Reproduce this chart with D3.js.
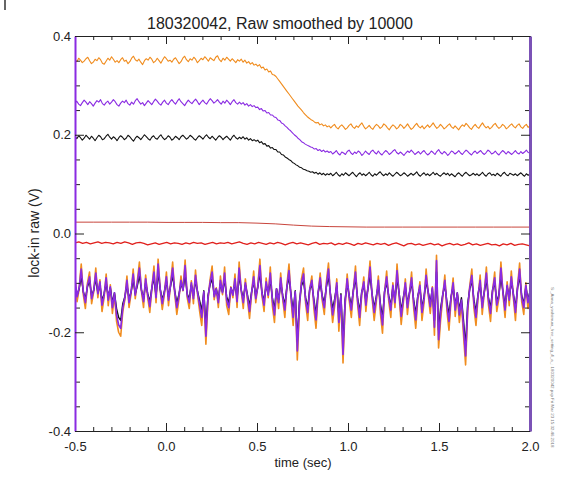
<!DOCTYPE html>
<html>
<head>
<meta charset="utf-8">
<script src="https://cdn.jsdelivr.net/npm/d3@7"></script>
<style>
  html, body { margin: 0; padding: 0; background: #fff; }
  svg { display: block; font-family: "Liberation Sans", Arial, sans-serif; }
</style>
</head>
<body>
<svg id="chart" width="565" height="483"></svg>
<script>
// Lock-in raw traces (mV), evenly sampled from tStart to tEnd
const tStart = -0.5, tEnd = 2.0;

const orangeTop = [
  352,348,355,351,346,349,354,357,350,344,
  347,353,350,356,352,345,343,349,355,351,
  358,353,347,350,346,352,356,349,351,344,
  348,355,359,352,349,353,347,342,350,354,
  351,357,353,346,349,355,350,345,352,358,
  354,349,351,347,353,356,350,344,348,355,
  359,352,348,354,351,357,353,346,350,355,
  352,358,354,349,356,353,350,357,360,352,
  348,355,351,357,353,349,354,350,346,352,
  349,353,347,351,345,348,343,346,341,343,
  339,342,335,337,331,333,327,329,322,321,
  318,313,308,303,298,293,288,283,278,273,
  268,263,258,254,250,245,241,237,234,231,
  229,226,224,225,220,222,218,220,216,218,
  214,218,221,215,212,217,220,216,211,214,
  219,222,216,213,218,215,220,224,217,212,
  215,219,214,211,217,221,218,213,216,222,
  219,214,210,216,220,217,212,215,221,218,
  213,217,222,216,211,214,219,223,217,214,
  218,212,216,220,215,219,224,218,213,216,
  221,217,212,215,219,222,216,213,218,214,
  210,216,220,217,223,219,214,211,217,221,
  216,213,219,224,218,214,217,212,215,220,
  223,217,213,216,221,218,212,215,219,222,
  217,214,219,222,216,213,218,221,215,217
];

const purpleTop = [
  264,268,262,259,265,270,266,261,267,263,
  258,264,269,266,271,263,260,265,268,262,
  266,271,267,261,258,264,268,265,270,263,
  260,266,262,269,273,267,262,265,259,264,
  269,265,261,267,272,268,263,260,266,270,
  264,261,267,271,266,262,268,273,267,263,
  259,265,270,266,263,268,272,267,261,266,
  270,265,262,268,273,269,264,267,271,266,
  262,268,264,270,266,261,267,271,265,262,
  266,262,265,260,263,258,261,257,259,255,
  256,251,253,248,249,244,245,240,240,236,
  235,230,229,224,222,218,215,211,208,204,
  200,197,193,190,186,184,181,179,177,175,
  174,171,172,168,170,166,169,165,167,164,
  166,161,164,168,162,159,165,163,160,166,
  169,163,160,165,162,167,164,158,162,167,
  163,160,166,169,164,161,167,162,159,164,
  168,165,160,163,167,170,164,161,165,162,
  158,163,167,164,169,165,160,163,166,161,
  165,168,163,159,162,167,164,160,166,170,
  164,161,166,163,158,162,167,165,161,164,
  168,163,160,165,169,166,162,159,164,167,
  162,165,168,163,160,164,169,166,161,163,
  167,162,159,164,168,165,161,166,163,160,
  164,168,163,161,166,162,165,169,164,163
];

const blackTop = [
  196,192,198,194,189,193,199,195,191,197,
  193,188,194,199,196,190,192,197,201,195,
  191,196,193,188,194,198,195,190,193,199,
  196,191,187,193,197,194,190,195,200,196,
  192,189,195,198,193,191,196,200,194,190,
  193,198,195,189,192,197,194,190,196,199,
  195,191,194,199,196,192,189,194,198,195,
  191,196,200,195,192,197,193,189,194,198,
  195,190,194,197,193,189,195,199,194,191,
  195,192,196,191,194,189,192,188,190,187,
  189,184,186,181,182,177,178,173,174,170,
  170,165,165,160,159,155,153,150,148,144,
  142,139,137,134,133,130,129,127,126,124,
  125,122,124,120,123,119,122,118,121,119,
  122,117,120,124,119,116,121,118,123,120,
  117,121,124,119,115,120,123,118,121,117,
  120,124,119,116,121,118,122,125,120,117,
  121,118,123,119,116,120,124,121,117,119,
  123,120,116,119,122,118,121,125,119,116,
  120,123,118,121,117,120,124,119,122,118,
  116,120,123,119,122,117,121,118,115,120,
  123,119,116,121,124,120,117,119,122,118,
  121,117,120,124,119,116,121,123,118,120,
  117,122,119,116,121,124,119,117,122,120,
  118,121,117,120,123,119,116,121,118,120
];

const redUpper = [
  23,23,23,23,23,22.5,22.5,22.5,22,22,
  21,19.5,17,15,14,13.5,
  13,13,13,13,13,13,13,13,13,13
];

const redLower = [
  -19,-17,-20,-18,-21,-19,-17,-20,-18,-19,
  -21,-18,-20,-17,-19,-22,-19,-18,-20,-23,
  -21,-19,-22,-20,-18,-21,-19,-20,-22,-19,
  -21,-18,-20,-19,-22,-20,-18,-21,-19,-20,
  -18,-21,-19,-17,-20,-22,-19,-21,-18,-20,
  -22,-19,-21,-18,-20,-23,-20,-18,-21,-19,
  -21,-23,-20,-18,-22,-20,-21,-19,-23,-20,
  -22,-19,-21,-24,-20,-22,-19,-21,-23,-20,
  -22,-20,-24,-21,-19,-22,-25,-21,-20,-23,
  -21,-24,-22,-20,-23,-21,-25,-22,-20,-23,
  -21,-24,-22,-19,-23,-21,-24,-22,-20,-23,
  -22,-25,-21,-23,-20,-24,-22,-21,-23,-25
];

const orangeLow = [
  -88,-138,-112,-62,-124,-152,-100,-78,-142,-118,
  -70,-130,-94,-158,-130,-82,-146,-104,-162,-124,
  -178,-200,-208,-158,-134,-86,-150,-122,-72,-132,
  -96,-58,-118,-150,-84,-130,-160,-110,-66,-140,
  -52,-114,-154,-124,-78,-146,-102,-58,-122,-164,
  -134,-86,-116,-54,-130,-152,-96,-142,-74,-124,
  -158,-186,-122,-224,-136,-94,-66,-134,-110,-150,
  -86,-124,-68,-146,-164,-108,-130,-82,-150,-58,
  -116,-152,-92,-134,-172,-122,-76,-140,-104,-52,
  -126,-158,-90,-130,-68,-146,-180,-112,-152,-80,
  -134,-170,-104,-62,-134,-186,-120,-256,-156,-92,
  -70,-142,-176,-112,-86,-152,-192,-124,-80,-136,
  -164,-98,-60,-132,-180,-146,-92,-198,-128,-262,
  -150,-82,-136,-170,-116,-66,-142,-186,-124,-88,
  -158,-108,-56,-130,-176,-140,-86,-162,-202,-120,
  -76,-136,-170,-100,-150,-62,-126,-184,-142,-92,
  -164,-122,-78,-150,-192,-134,-98,-176,-140,-72,
  -124,-162,-108,-206,-44,-232,-174,-130,-84,-156,
  -196,-136,-90,-168,-122,-180,-142,-206,-266,-160,
  -106,-72,-150,-186,-130,-84,-164,-120,-68,-144,
  -178,-116,-78,-158,-132,-58,-124,-170,-98,-146,
  -76,-130,-176,-108,-60,-138,-164,-100,-152,-120
];

const blackLow = [
  -105,-125,-112,-88,-118,-132,-108,-96,-126,-115,
  -92,-120,-104,-136,-122,-100,-128,-110,-140,-120,
  -152,-170,-176,-142,-128,-104,-132,-118,-94,-122,
  -106,-86,-115,-132,-100,-122,-138,-110,-90,-126,
  -80,-112,-134,-118,-96,-128,-106,-86,-116,-140,
  -124,-102,-114,-84,-122,-132,-104,-126,-96,-118,
  -136,-156,-116,-190,-126,-104,-92,-124,-112,-134,
  -102,-118,-94,-128,-140,-110,-122,-100,-132,-86,
  -114,-132,-104,-124,-146,-118,-98,-128,-108,-82,
  -120,-136,-104,-122,-94,-130,-152,-112,-134,-100,
  -126,-144,-108,-90,-124,-156,-116,-218,-138,-106,
  -96,-130,-150,-112,-104,-134,-162,-120,-100,-126,
  -140,-108,-88,-124,-152,-132,-106,-166,-122,-225,
  -134,-102,-126,-146,-114,-92,-130,-158,-118,-106,
  -136,-112,-86,-122,-150,-128,-104,-142,-170,-118,
  -100,-126,-146,-108,-134,-92,-120,-156,-130,-108,
  -142,-120,-100,-134,-162,-126,-110,-150,-128,-98,
  -118,-140,-112,-176,-78,-196,-150,-124,-104,-138,
  -164,-128,-108,-146,-120,-154,-130,-176,-228,-142,
  -112,-96,-134,-158,-122,-104,-142,-118,-94,-130,
  -150,-114,-100,-138,-124,-90,-118,-146,-108,-130,
  -98,-122,-150,-110,-88,-126,-142,-108,-134,-118
];

const purpleLow = [
  -95,-128,-110,-72,-118,-140,-105,-88,-132,-115,
  -80,-122,-98,-145,-125,-90,-135,-108,-150,-120,
  -165,-185,-192,-150,-130,-95,-140,-118,-82,-125,
  -100,-70,-115,-138,-92,-125,-148,-110,-78,-130,
  -62,-112,-142,-120,-88,-135,-105,-70,-118,-150,
  -128,-95,-115,-65,-125,-140,-100,-132,-85,-120,
  -145,-170,-118,-208,-130,-100,-78,-128,-112,-140,
  -95,-120,-80,-135,-150,-110,-125,-92,-138,-70,
  -115,-140,-100,-128,-158,-120,-88,-132,-108,-65,
  -122,-145,-98,-125,-80,-135,-165,-112,-140,-90,
  -130,-155,-108,-75,-128,-170,-118,-238,-145,-100,
  -82,-135,-160,-112,-95,-140,-175,-120,-90,-130,
  -150,-105,-72,-128,-165,-138,-100,-180,-125,-245,
  -140,-92,-130,-155,-115,-78,-135,-170,-120,-98,
  -145,-110,-68,-125,-160,-132,-95,-150,-185,-118,
  -88,-130,-155,-105,-140,-75,-122,-168,-135,-100,
  -150,-120,-90,-140,-175,-128,-105,-160,-132,-85,
  -120,-148,-110,-190,-55,-215,-160,-125,-95,-145,
  -178,-130,-100,-155,-120,-165,-135,-190,-248,-150,
  -110,-85,-140,-170,-125,-95,-150,-118,-80,-135,
  -162,-115,-90,-145,-128,-70,-120,-155,-105,-135,
  -88,-125,-160,-110,-72,-130,-150,-105,-140,-118
];

const xMajorTicks = [-0.5, 0.0, 0.5, 1.0, 1.5, 2.0];
const yMajorTicks = [-0.4, -0.2, 0.0, 0.2, 0.4];
const titleText = "180320042, Raw smoothed by 10000";
const xLabel = "time (sec)";
const yLabel = "lock-in raw (V)";
const footerText = "S:_Anna_yoshimura_free_setting_4_a_: 180320042.pxp  Fri Mar 23 15:32:46 2018";

// ---- layout ----
const svg = d3.select("#chart");
const plotL = 75, plotR = 530, plotT = 36, plotB = 431;

const x = d3.scaleLinear().domain([-0.5, 2.0]).range([plotL, plotR]);
const y = d3.scaleLinear().domain([-0.4, 0.4]).range([plotB, plotT]);

svg.append("defs").append("clipPath").attr("id", "plotclip")
  .append("rect").attr("x", plotL).attr("y", plotT)
  .attr("width", plotR - plotL).attr("height", plotB - plotT);

// sample times follow the wave scaling (start, uniform step)
function toPoints(vals) {
  const n = vals.length;
  return vals.map((v, i) => [tStart + (tEnd - tStart) * i / (n - 1), v / 1000]);
}
const line = d3.line().x(d => x(d[0])).y(d => y(d[1]));

const traces = svg.append("g").attr("clip-path", "url(#plotclip)");
const series = [
  { vals: orangeTop, color: "#f08c1e", w: 1.1 },
  { vals: purpleTop, color: "#8a2be2", w: 1.1 },
  { vals: blackTop,  color: "#111111", w: 1.1 },
  { vals: redUpper,  color: "#c8453c", w: 1.0 },
  { vals: redLower,  color: "#e0201c", w: 1.3 },
  { vals: orangeLow, color: "#f08c1e", w: 1.6 },
  { vals: blackLow,  color: "#111111", w: 1.4 },
  { vals: purpleLow, color: "#8a2be2", w: 1.7 }
];
series.forEach(s => {
  traces.append("path")
    .datum(toPoints(s.vals))
    .attr("d", line)
    .attr("fill", "none")
    .attr("stroke", s.color)
    .attr("stroke-width", s.w)
    .attr("stroke-linejoin", "round");
});

// ---- axes (ticks point inward on all four sides) ----
const fmt = d => d.toFixed(1);
const xMinor = d3.range(-5, 21).map(k => k / 10).filter(v => !xMajorTicks.some(m => Math.abs(m - v) < 1e-9));
const yMinor = d3.range(-8, 9).map(k => k / 20).filter(v => !yMajorTicks.some(m => Math.abs(m - v) < 1e-9));

function styleAxis(g, domainColor, domainWidth) {
  g.select(".domain").attr("stroke", domainColor).attr("stroke-width", domainWidth);
  g.selectAll(".tick line").attr("stroke", "#222");
  g.selectAll(".tick text").attr("fill", "#222").style("font-size", "13px")
    .style("font-family", "'Liberation Sans', Arial, sans-serif");
}

// minor ticks
svg.append("g").attr("transform", `translate(0,${plotB})`)
  .call(d3.axisBottom(x).tickValues(xMinor).tickSize(-4).tickSizeOuter(0).tickFormat(""))
  .call(g => g.select(".domain").remove()).selectAll("line").attr("stroke", "#222");
svg.append("g").attr("transform", `translate(0,${plotT})`)
  .call(d3.axisTop(x).tickValues(xMinor).tickSize(-4).tickSizeOuter(0).tickFormat(""))
  .call(g => g.select(".domain").remove()).selectAll("line").attr("stroke", "#222");
svg.append("g").attr("transform", `translate(${plotL},0)`)
  .call(d3.axisLeft(y).tickValues(yMinor).tickSize(-5).tickSizeOuter(0).tickFormat(""))
  .call(g => g.select(".domain").remove()).selectAll("line").attr("stroke", "#222");
svg.append("g").attr("transform", `translate(${plotR},0)`)
  .call(d3.axisRight(y).tickValues(yMinor).tickSize(-5).tickSizeOuter(0).tickFormat(""))
  .call(g => g.select(".domain").remove()).selectAll("line").attr("stroke", "#222");

// major ticks and frame
svg.append("g").attr("transform", `translate(0,${plotB})`)
  .call(d3.axisBottom(x).tickValues(xMajorTicks).tickSize(-8).tickSizeOuter(0).tickPadding(11).tickFormat(fmt))
  .call(g => styleAxis(g, "#222", 1.2));
svg.append("g").attr("transform", `translate(0,${plotT})`)
  .call(d3.axisTop(x).tickValues(xMajorTicks).tickSize(-8).tickSizeOuter(0).tickFormat(""))
  .call(g => styleAxis(g, "#222", 1.2));
svg.append("g").attr("transform", `translate(${plotL},0)`)
  .call(d3.axisLeft(y).tickValues(yMajorTicks).tickSize(-9).tickSizeOuter(0).tickPadding(4).tickFormat(fmt))
  .call(g => styleAxis(g, "#8a2be2", 2));
svg.append("g").attr("transform", `translate(${plotR},0)`)
  .call(d3.axisRight(y).tickValues(yMajorTicks).tickSize(-9).tickSizeOuter(0).tickFormat(""))
  .call(g => styleAxis(g, "#7b52b6", 3));

// ---- text ----
svg.append("text").attr("x", 280).attr("y", 29).attr("text-anchor", "middle")
  .style("font-size", "16px").attr("fill", "#222").text(titleText);
svg.append("text").attr("x", 303).attr("y", 467).attr("text-anchor", "middle")
  .style("font-size", "13px").attr("fill", "#222").text(xLabel);
svg.append("text").attr("transform", "translate(39,233) rotate(-90)").attr("text-anchor", "middle")
  .style("font-size", "14px").attr("fill", "#222").text(yLabel);
svg.append("text").attr("transform", "translate(551,287) rotate(90)")
  .style("font-size", "4.4px").attr("fill", "#777").text(footerText);

// small mark at the top-left corner
svg.append("line").attr("x1", 5).attr("x2", 5).attr("y1", 0).attr("y2", 10)
  .attr("stroke", "#333").attr("stroke-width", 1.5);
</script>
</body>
</html>
